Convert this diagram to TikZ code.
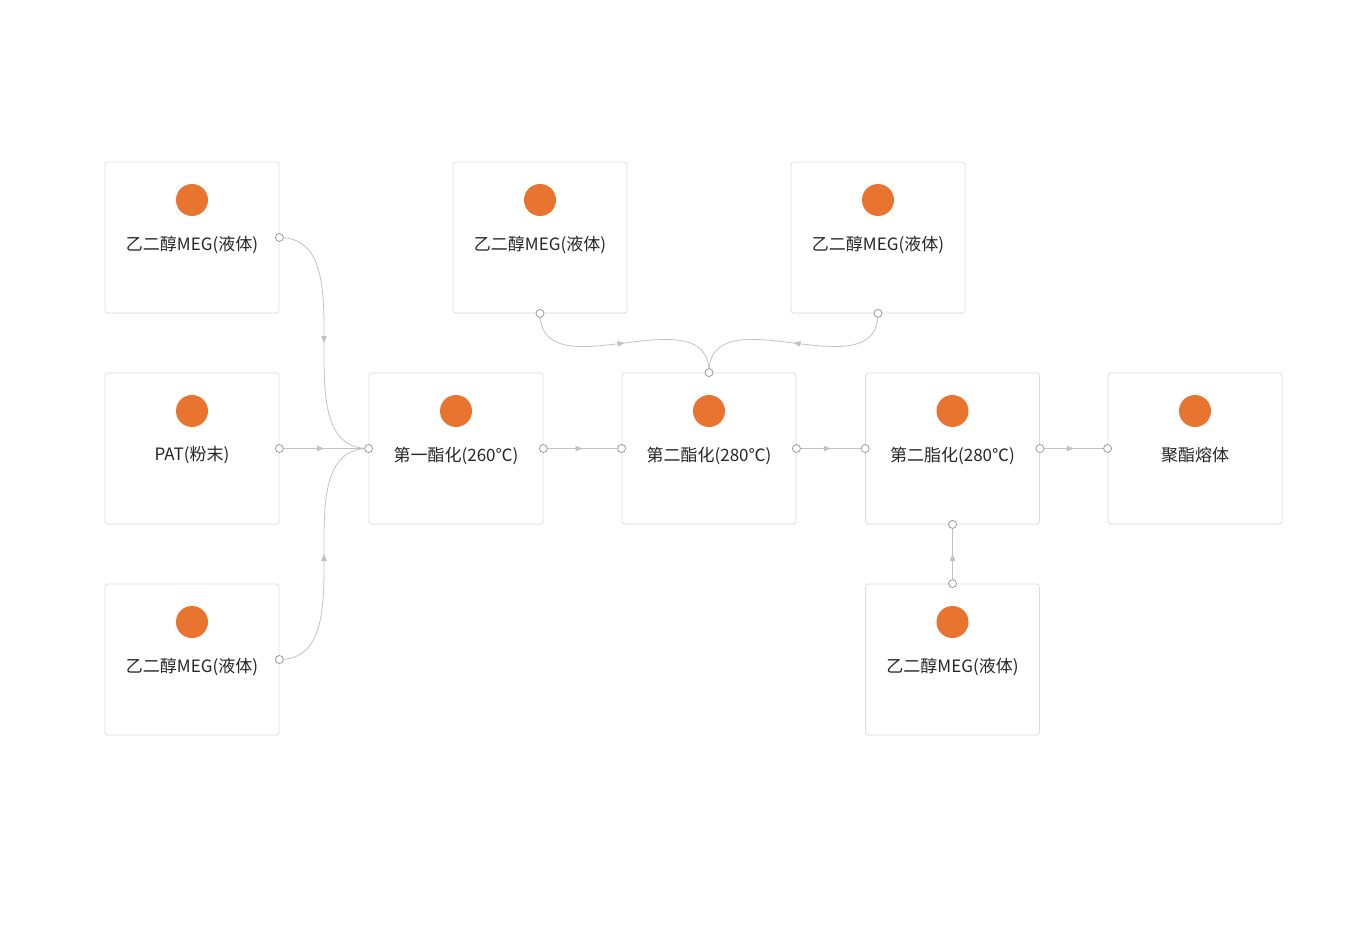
\documentclass[tikz,border=0pt]{standalone}
\usepackage{fontspec}
\newfontfamily\cjk{Noto Sans CJK SC}
\usetikzlibrary{arrows.meta,decorations.markings,calc,shadows}
\definecolor{cardline}{HTML}{DCDDE3}
\definecolor{dotorange}{HTML}{E87430}
\definecolor{linegray}{HTML}{C2C2C2}
\definecolor{portgray}{HTML}{9A9A9A}
\definecolor{textdark}{HTML}{262626}
\tikzset{
  card/.style={draw=cardline, fill=white, rounded corners=3pt, line width=0.8pt,
    minimum width=174pt, minimum height=151pt, inner sep=0pt,
    drop shadow={opacity=0.06, shadow xshift=0pt, shadow yshift=-1.2pt}},
  dot/.style={circle, fill=dotorange, minimum size=32pt, inner sep=0pt},
  lbl/.style={font=\cjk\fontsize{17}{19}\selectfont, text=textdark, inner sep=0pt},
  port/.style={circle, draw=portgray, fill=white, minimum size=8pt, inner sep=0pt, line width=0.8pt},
  link/.style={draw=linegray, line width=0.8pt},
  midarrow/.style={postaction={decorate}, decoration={markings,
    mark=at position 0.5 with {\arrow[linegray]{Triangle[length=7pt,width=5.5pt]}}}}
}
% a card with its orange marker and caption
\newcommand{\flowcard}[4]{%
  \node[card] (#1) at (#2,#3) {};
  \node[dot] (#1-dot) at ($(#1.center)+(0,-37.5)$) {};
  \node[lbl] (#1-txt) at ($(#1.center)+(0,7)$) {#4};
}
\begin{document}
\begin{tikzpicture}[x=1pt,y=-1pt]
\useasboundingbox[fill=white] (0,0) rectangle (1360,952);

\flowcard{megA}{192}{237.5}{乙二醇MEG(液体)}
\flowcard{pat}{192}{448.5}{PAT(粉末)}
\flowcard{megB}{192}{659.5}{乙二醇MEG(液体)}
\flowcard{estA}{456}{448.5}{第一酯化(260℃)}
\flowcard{megC}{540}{237.5}{乙二醇MEG(液体)}
\flowcard{megD}{878}{237.5}{乙二醇MEG(液体)}
\flowcard{estB}{709}{448.5}{第二酯化(280℃)}
\flowcard{estC}{952.5}{448.5}{第二脂化(280℃)}
\flowcard{melt}{1195}{448.5}{聚酯熔体}
\flowcard{megE}{952.5}{659.5}{乙二醇MEG(液体)}

% connectors
\draw[link, midarrow] (megA.east) .. controls ($(megA.east)+(90,0)$) and ($(estA.west)+(-90,0)$) .. (estA.west);
\draw[link, midarrow] (pat.east) -- (estA.west);
\draw[link, midarrow] (megB.east) .. controls ($(megB.east)+(90,0)$) and ($(estA.west)+(-90,0)$) .. (estA.west);
\draw[link, midarrow] (estA.east) -- (estB.west);
\draw[link, midarrow] (megC.south) .. controls ($(megC.south)+(0,80)$) and ($(estB.north)+(0,-80)$) .. (estB.north);
\draw[link, midarrow] (megD.south) .. controls ($(megD.south)+(0,80)$) and ($(estB.north)+(0,-80)$) .. (estB.north);
\draw[link, midarrow] (estB.east) -- (estC.west);
\draw[link, midarrow] (estC.east) -- (melt.west);
\draw[link, midarrow] (megE.north) -- (estC.south);

% connection ports
\foreach \p in {megA.east, pat.east, megB.east, estA.west, estA.east,
  megC.south, megD.south, estB.north, estB.west, estB.east,
  estC.west, estC.east, estC.south, megE.north, melt.west}
  \node[port] at (\p) {};
\end{tikzpicture}
\end{document}
